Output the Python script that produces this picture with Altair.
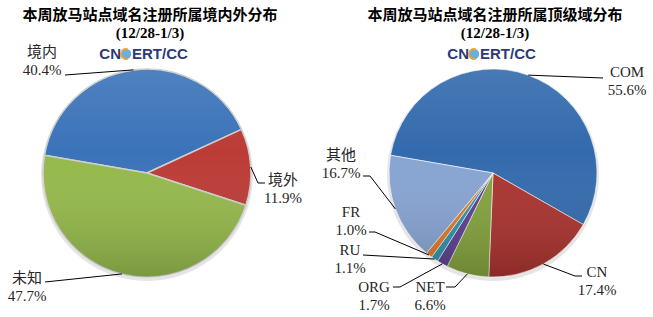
import math
import altair as alt
import pandas as pd

# ---------------- data ----------------
left_cats = ["境内", "境外", "未知"]
left_vals = [40.4, 11.9, 47.7]
right_cats = ["COM", "CN", "NET", "ORG", "RU", "FR", "其他"]
right_vals = [55.6, 17.4, 6.6, 1.7, 1.1, 1.0, 16.7]
titles = ["本周放马站点域名注册所属境内外分布", "本周放马站点域名注册所属顶级域分布"]
period = "(12/28-1/3)"
logo = "CNCERT/CC"

# ---------------- style ----------------
left_colors = ["#3b73b9", "#bc3b36", "#95b94b"]
right_colors = ["#336aad", "#aa332f", "#84a33d", "#5d4190", "#2f93ad", "#e07a2a", "#87a4d2"]
SERIF = "Liberation Serif, Noto Sans CJK SC"
CJK = "Noto Sans CJK SC"
LOGO_COLOR = "#2d3a78"

# ---------------- layout ----------------
W, H = 653, 317
R = 104
START = math.radians(-80.2)
left_center = (147, 173)
right_center = (493, 173)
title_x = [150, 495]
logo_x = [148, 496]
left_label_pos = [(42, 52), (283, 180), (27, 278)]
right_label_pos = [(627, 72), (597, 272), (430, 287), (374, 287),
                   (350, 250), (351, 212), (341, 155)]
left_leader = [[(65, 75)], [(258, 183), (265, 183)], [(45, 282)]]
right_leader = [[(603, 78)], [(575, 276), (582, 276)], [(455, 287), (446, 287)],
                [(400, 287), (393, 287)], [(363, 255)], [(375, 232), (369, 232)],
                [(370, 176), (363, 176)]]
LINE_GAP = 18


def pie_layers(cats, vals, colors, center, label_pos, leaders, stroke, sw):
    cx, cy = center
    df = pd.DataFrame({"cat": cats, "val": vals, "idx": list(range(len(cats))),
                       "color": colors})
    shadow = alt.Chart(pd.DataFrame({"k": [0]})).mark_arc(
        theta=0, theta2=2 * math.pi, radius=R + 2, fill="#000000", opacity=0.10
    ).encode(x=alt.value(cx), y=alt.value(cy + 2))
    arc = alt.Chart(df).mark_arc(radius=R, stroke=stroke, strokeWidth=sw).encode(
        theta=alt.Theta("val:Q", stack=True,
                        scale=alt.Scale(range=[START, START + 2 * math.pi])),
        order=alt.Order("idx:Q"),
        color=alt.Color("color:N", scale=None, legend=None),
        x=alt.value(cx), y=alt.value(cy),
    )
    shade = alt.Chart(pd.DataFrame({"k": [0]})).mark_arc(
        theta=0, theta2=2 * math.pi, radius=R,
        fill=alt.LinearGradient(
            gradient="linear",
            stops=[alt.GradientStop(color="rgba(255,255,255,0.10)", offset=0),
                   alt.GradientStop(color="rgba(255,255,255,0.0)", offset=0.4),
                   alt.GradientStop(color="rgba(0,0,0,0.18)", offset=1)],
            x1=0, x2=0, y1=0, y2=1),
    ).encode(x=alt.value(cx), y=alt.value(cy))

    # leader lines: start at slice mid-angle on the rim
    total = sum(vals)
    rows = []
    cum = 0.0
    for i, (c, v) in enumerate(zip(cats, vals)):
        mid = START + (cum + v / 2) / total * 2 * math.pi
        cum += v
        pts = [(cx + R * math.sin(mid), cy - R * math.cos(mid))] + leaders[i]
        for j, (px, py) in enumerate(pts):
            rows.append({"cat": c, "seq": j, "px": px, "py": py})
    ldf = pd.DataFrame(rows)
    lines = alt.Chart(ldf).mark_line(color="#000000", strokeWidth=1).encode(
        x=alt.X("px:Q", scale=None, axis=None),
        y=alt.Y("py:Q", scale=None, axis=None),
        detail="cat:N",
        order="seq:Q",
    )

    tdf = pd.DataFrame({
        "name": cats,
        "pct": [f"{v:.1f}%" for v in vals],
        "tx": [p[0] for p in label_pos],
        "ty": [p[1] for p in label_pos],
        "ty2": [p[1] + LINE_GAP for p in label_pos],
    })
    names = alt.Chart(tdf).mark_text(font=SERIF, fontSize=15, color="#262626",
                                     align="center", baseline="middle").encode(
        x=alt.X("tx:Q", scale=None, axis=None),
        y=alt.Y("ty:Q", scale=None, axis=None),
        text="name:N",
    )
    pcts = alt.Chart(tdf).mark_text(font=SERIF, fontSize=15, color="#262626",
                                    align="center", baseline="middle").encode(
        x=alt.X("tx:Q", scale=None, axis=None),
        y=alt.Y("ty2:Q", scale=None, axis=None),
        text="pct:N",
    )
    return [shadow, arc, shade, lines, names, pcts]


head = pd.DataFrame({
    "title": titles,
    "period": [period, period],
    "logo_a": [logo[:2], logo[:2]],
    "logo_b": [logo[3:], logo[3:]],
    "tx": title_x,
    "la": [x - 27 for x in logo_x],
    "lg": [x - 22 for x in logo_x],
    "lb": [x - 16 for x in logo_x],
    "ty": [15, 15],
    "py": [33, 33],
    "ly": [54, 54],
})
title_layer = alt.Chart(head).mark_text(font=CJK, fontSize=15, fontWeight="bold",
                                        color="#000000", baseline="middle").encode(
    x=alt.X("tx:Q", scale=None, axis=None), y=alt.Y("ty:Q", scale=None, axis=None),
    text="title:N")
period_layer = alt.Chart(head).mark_text(font="Liberation Serif", fontSize=15,
                                         fontWeight="bold", color="#000000",
                                         baseline="middle").encode(
    x=alt.X("tx:Q", scale=None, axis=None), y=alt.Y("py:Q", scale=None, axis=None),
    text="period:N")
logo_a = alt.Chart(head).mark_text(font="Liberation Sans", fontSize=15,
                                   fontWeight="bold", color=LOGO_COLOR,
                                   align="right", baseline="middle").encode(
    x=alt.X("la:Q", scale=None, axis=None), y=alt.Y("ly:Q", scale=None, axis=None),
    text="logo_a:N")
logo_b = alt.Chart(head).mark_text(font="Liberation Sans", fontSize=15,
                                   fontWeight="bold", color=LOGO_COLOR,
                                   align="left", baseline="middle").encode(
    x=alt.X("lb:Q", scale=None, axis=None), y=alt.Y("ly:Q", scale=None, axis=None),
    text="logo_b:N")
globe = alt.Chart(head).mark_arc(theta=0, theta2=2 * math.pi, radius=5.2,
                                 fill="#6aaedc").encode(
    x=alt.X("lg:Q", scale=None, axis=None), y=alt.Y("ly:Q", scale=None, axis=None))
ring = alt.Chart(head).mark_arc(theta=math.pi * 0.9, theta2=math.pi * 2.1,
                                radius=6, radius2=4, fill="#f0a23a").encode(
    x=alt.X("lg:Q", scale=None, axis=None), y=alt.Y("ly:Q", scale=None, axis=None))

layers = (pie_layers(left_cats, left_vals, left_colors, left_center,
                     left_label_pos, left_leader, "#cfcfcf", 1.5)
          + pie_layers(right_cats, right_vals, right_colors, right_center,
                       right_label_pos, right_leader, "#ffffff", 0.6)
          + [title_layer, period_layer, logo_a, globe, ring, logo_b])

chart = alt.layer(*layers).resolve_scale(theta="independent").properties(
    width=W, height=H, padding=0, autosize=alt.AutoSizeParams(type="none"),
    background="#ffffff",
).configure_view(stroke=None)

chart.save("out.html", embed_options={"renderer": "svg", "actions": False})
